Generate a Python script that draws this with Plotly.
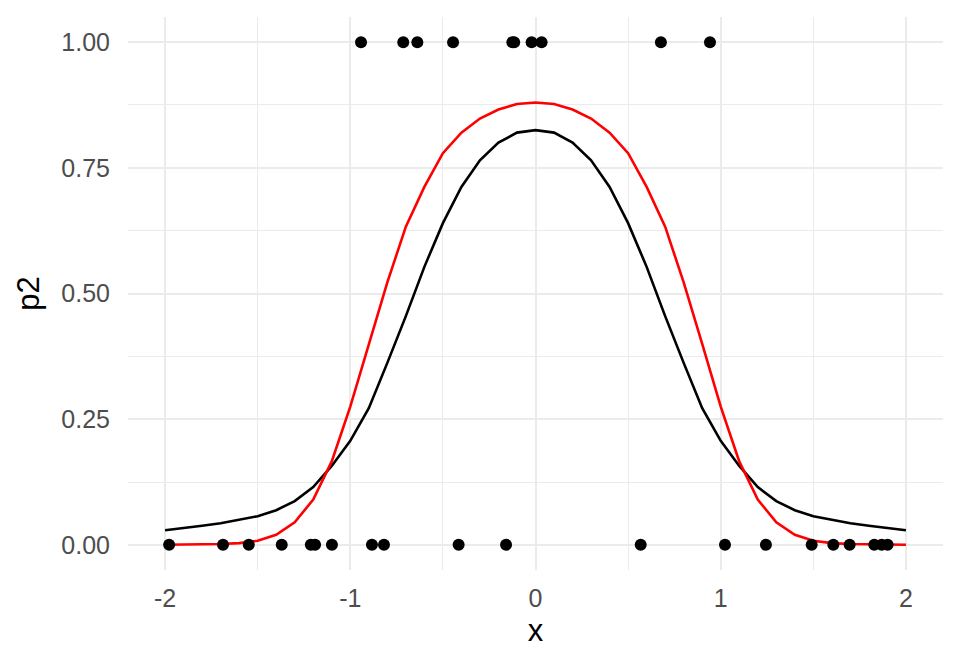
import plotly.graph_objects as go

# observed points
x_zero = [-1.978, -1.687, -1.548, -1.370, -1.213, -1.190, -1.099, -0.883, -0.818,
          -0.415, -0.159, 0.568, 1.023, 1.244, 1.491, 1.608, 1.696, 1.829, 1.869, 1.901]
y_zero = [0] * len(x_zero)
x_one = [-0.942, -0.714, -0.638, -0.445, -0.125, -0.115, -0.021, 0.033, 0.677, 0.942]
y_one = [1] * len(x_one)

# fitted curves on grid
grid_x = [-2.0, -1.9, -1.8, -1.7, -1.6, -1.5, -1.4, -1.3, -1.2, -1.1, -1.0,
          -0.9, -0.8, -0.7, -0.6, -0.5, -0.4, -0.3, -0.2, -0.1, 0.0,
          0.1, 0.2, 0.3, 0.4, 0.5, 0.6, 0.7, 0.8, 0.9, 1.0,
          1.1, 1.2, 1.3, 1.4, 1.5, 1.6, 1.7, 1.8, 1.9, 2.0]
black_y = [0.029, 0.033, 0.038, 0.043, 0.050, 0.057, 0.069, 0.087, 0.115, 0.157, 0.207,
           0.272, 0.362, 0.455, 0.553, 0.640, 0.712, 0.765, 0.800, 0.820, 0.825,
           0.820, 0.800, 0.765, 0.712, 0.640, 0.553, 0.455, 0.362, 0.272, 0.207,
           0.157, 0.115, 0.087, 0.069, 0.057, 0.050, 0.043, 0.038, 0.033, 0.029]
red_y = [0.0002, 0.0004, 0.0008, 0.0016, 0.0035, 0.008, 0.020, 0.045, 0.090, 0.166, 0.275,
         0.400, 0.522, 0.633, 0.712, 0.779, 0.820, 0.848, 0.866, 0.877, 0.880,
         0.877, 0.866, 0.848, 0.820, 0.779, 0.712, 0.633, 0.522, 0.400, 0.275,
         0.166, 0.090, 0.045, 0.020, 0.008, 0.0035, 0.0016, 0.0008, 0.0004, 0.0002]

x_ticks = [-2, -1, 0, 1, 2]
x_ticklabels = ["-2", "-1", "0", "1", "2"]
y_ticks = [0, 0.25, 0.5, 0.75, 1.0]
y_ticklabels = ["0.00", "0.25", "0.50", "0.75", "1.00"]

fig = go.Figure()
fig.add_trace(go.Scatter(x=grid_x, y=black_y, mode="lines",
                         line=dict(color="black", width=2.6), showlegend=False))
fig.add_trace(go.Scatter(x=grid_x, y=red_y, mode="lines",
                         line=dict(color="#FF0000", width=2.6), showlegend=False))
fig.add_trace(go.Scatter(x=x_zero + x_one, y=y_zero + y_one, mode="markers",
                         marker=dict(color="black", size=12, line=dict(width=0)),
                         showlegend=False))

grid_col = "#EBEBEB"
fig.update_layout(
    width=952, height=664,
    margin=dict(l=120, r=17, t=9, b=102),
    paper_bgcolor="white", plot_bgcolor="white",
    font=dict(family="Liberation Sans, Arial, sans-serif"),
    xaxis=dict(
        range=[-2.2, 2.2], tickvals=x_ticks, ticktext=x_ticklabels,
        showgrid=True, gridcolor=grid_col, gridwidth=2.2, zeroline=False,
        showline=False, ticks="", ticklabelstandoff=11,
        tickfont=dict(size=25, color="#4D4D4D"),
        minor=dict(tickvals=[-1.5, -0.5, 0.5, 1.5], showgrid=True,
                   gridcolor=grid_col, gridwidth=1.1),
        title=dict(text="x", font=dict(size=31, color="black"), standoff=8),
        automargin=False,
    ),
    yaxis=dict(
        range=[-0.05, 1.05], tickvals=y_ticks, ticktext=y_ticklabels,
        showgrid=True, gridcolor=grid_col, gridwidth=2.2, zeroline=False,
        showline=False, ticks="", ticklabelstandoff=17,
        tickfont=dict(size=25, color="#4D4D4D"),
        minor=dict(tickvals=[0.125, 0.375, 0.625, 0.875], showgrid=True,
                   gridcolor=grid_col, gridwidth=1.1),
        title=dict(text="p2", font=dict(size=31, color="black"), standoff=12),
        automargin=False,
    ),
)

fig.write_html("out.html")
